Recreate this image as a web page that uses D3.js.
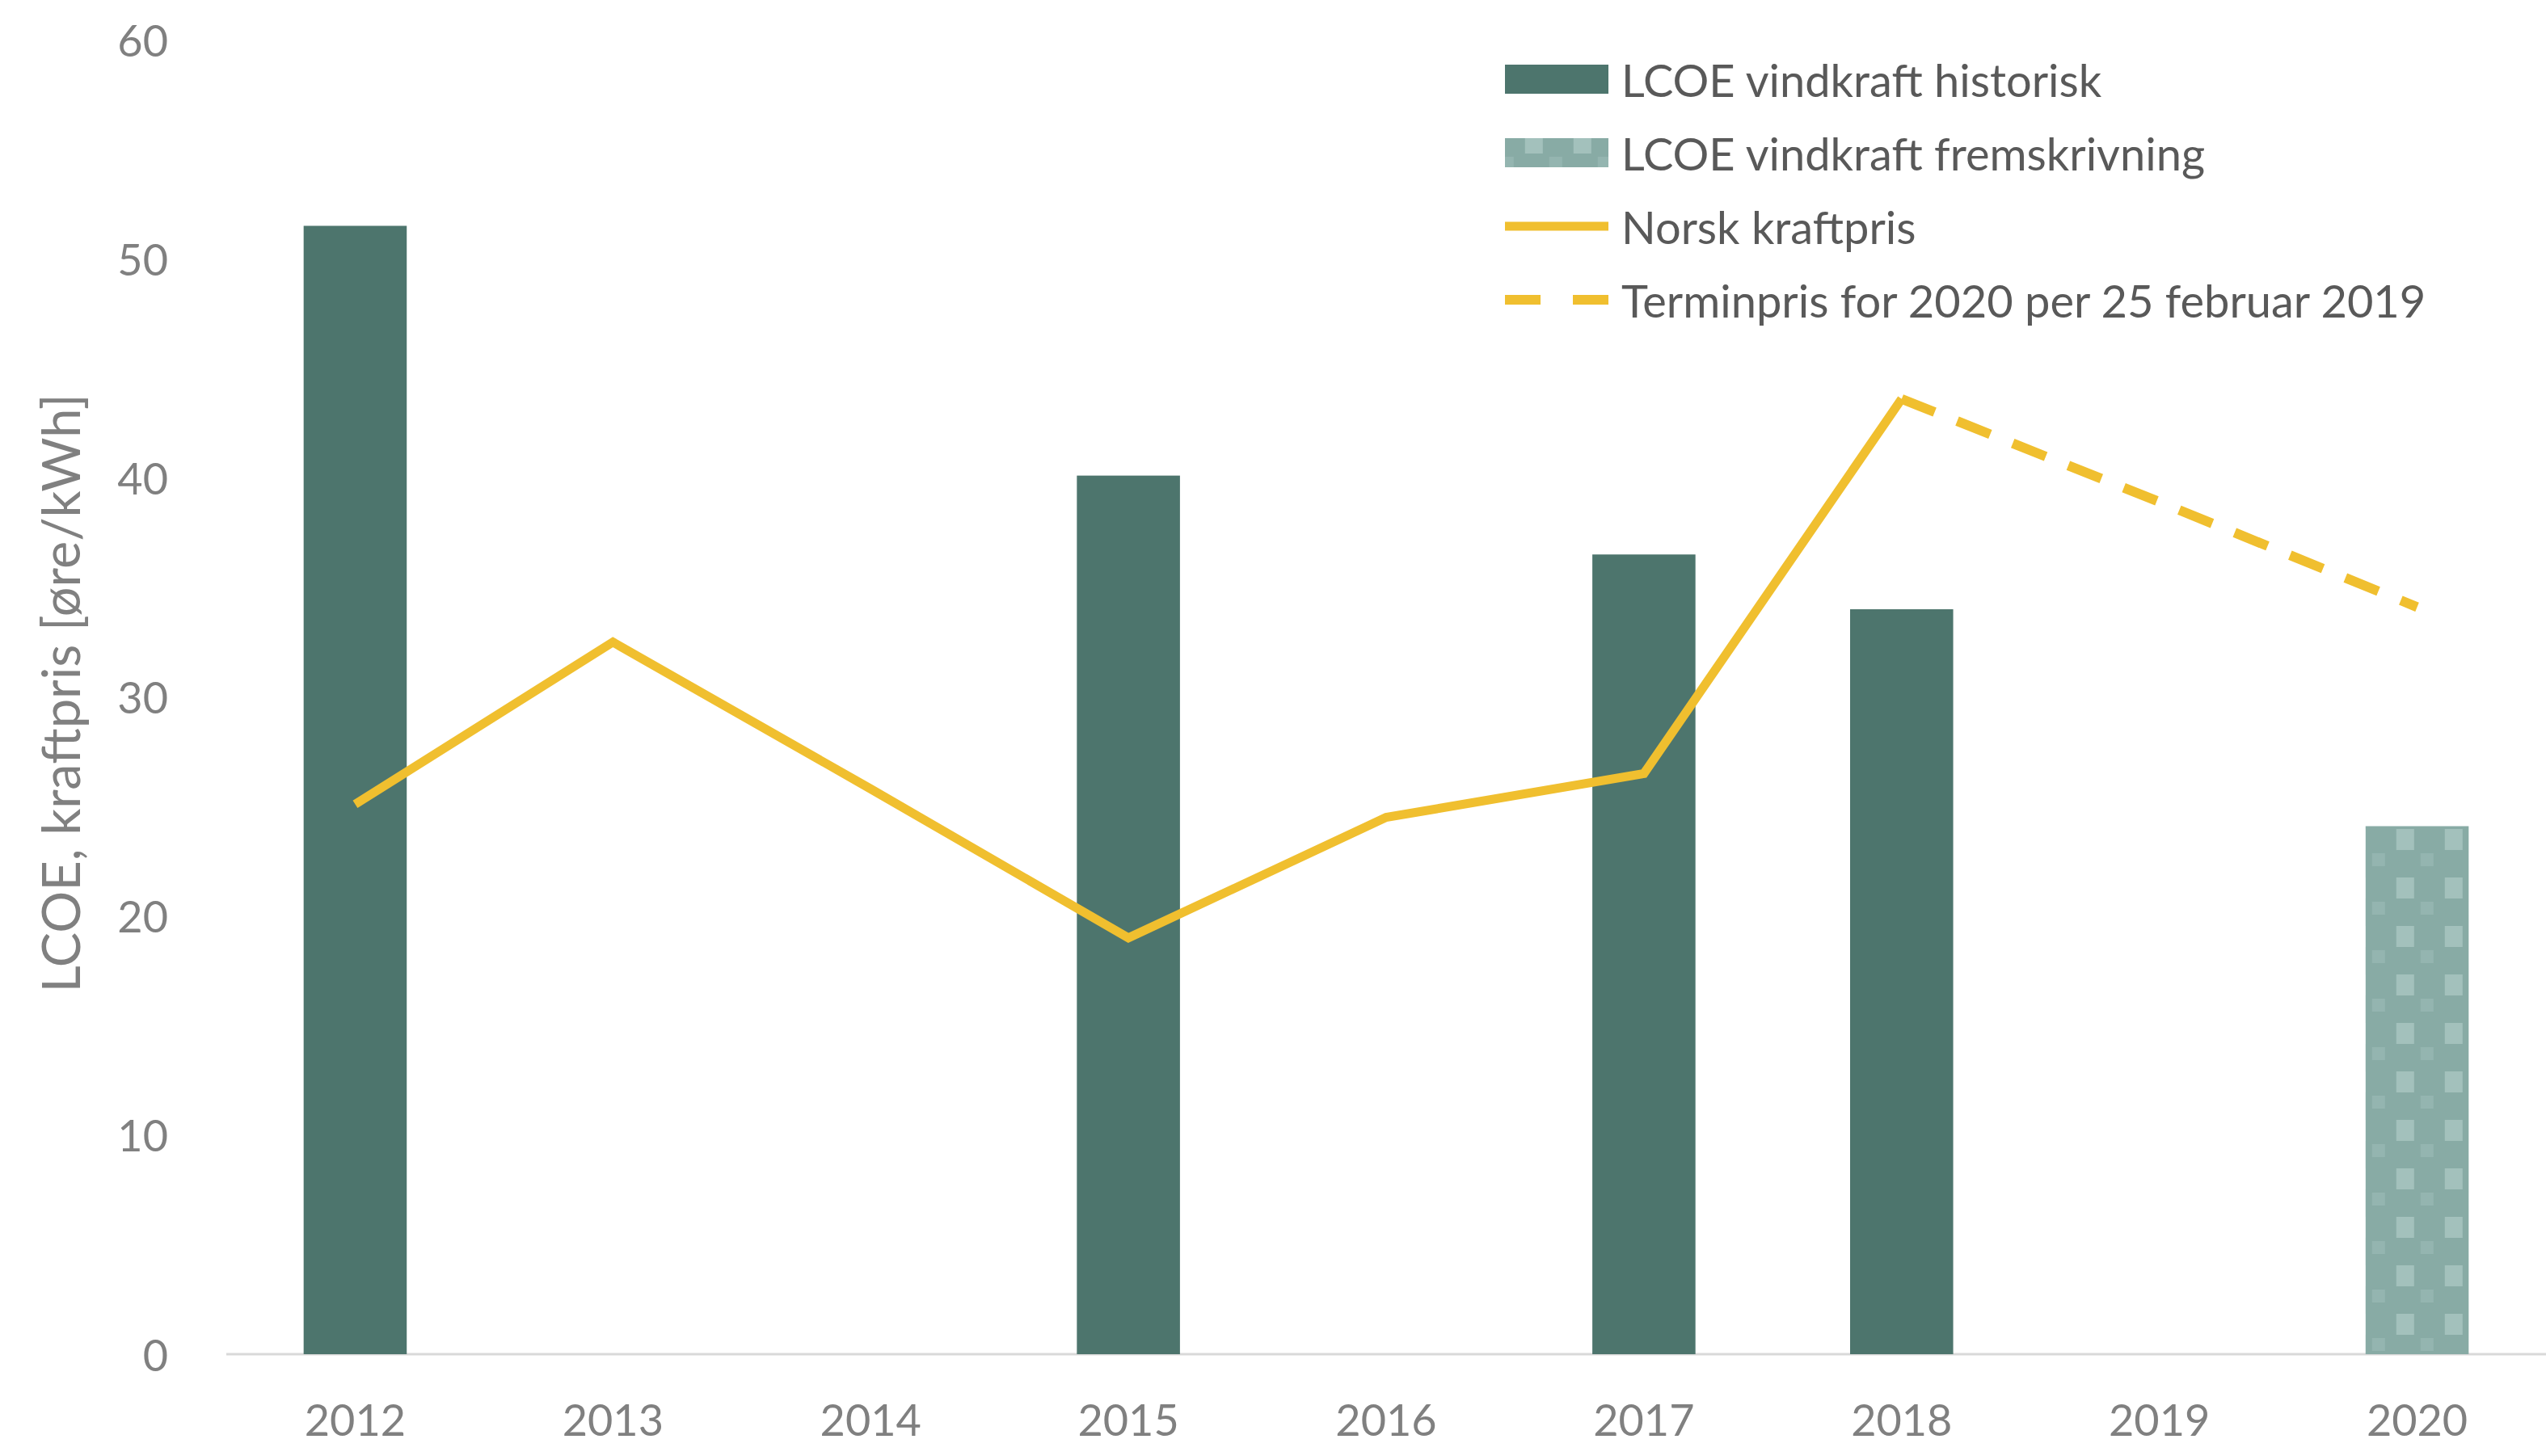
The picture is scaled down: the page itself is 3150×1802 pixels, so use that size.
<!DOCTYPE html>
<html>
  <head>
    <meta charset="utf-8" />
    <title>LCOE vindkraft og kraftpris</title>
    <script src="https://d3js.org/d3.v7.min.js"></script>
    <style>
      body{
        margin: 0;
        background: white;
        font-family: 'Lato', sans-serif;
      }
      .tick-label{
        fill: #808080;
        font-size: 54px;
      }
      .legend-label{
        fill: #595959;
        font-size: 56px;
      }
      .axis-title{
        fill: #808080;
        font-size: 65px;
      }
    </style>
  </head>
  <body>
    <svg id="chart"></svg>
    <script>
      var years = ["2012", "2013", "2014", "2015", "2016", "2017", "2018", "2019", "2020"];
      // LCOE vindkraft (historisk), null where no bar
      var lcoeHistorisk = [51.5, null, null, 40.1, null, 36.5, 34.0, null, null];
      var lcoeFremskrivning = [null, null, null, null, null, null, null, null, 24.1];
      var norskKraftpris = [25.1, 32.5, 25.8, 19.0, 24.5, 26.5, 43.6, null, null];
      var terminpris = [null, null, null, null, null, null, 43.6, 38.9, 34.1];
      var yTicks = [0, 10, 20, 30, 40, 50, 60];
      var legendLabels = [
        "LCOE vindkraft historisk",
        "LCOE vindkraft fremskrivning",
        "Norsk kraftpris",
        "Terminpris for 2020 per 25 februar 2019"
      ];

      var width = 3150;
      var height = 1802;
      var barColor = "#4d756d";
      var lineColor = "#f0bf2f";

      var svg = d3.select("#chart")
        .attr("width", width)
        .attr("height", height);

      var x = d3.scaleBand()
        .domain(years)
        .range([280, 3150])
        .paddingInner(0.6)
        .paddingOuter(0.3);

      var y = d3.scaleLinear()
        .domain([0, 60])
        .range([1676, 49]);

      // dotted pattern for the projection bar
      var defs = svg.append("defs");
      var pattern = defs.append("pattern")
        .attr("id", "fremPattern")
        .attr("patternUnits", "userSpaceOnUse")
        .attr("width", 60)
        .attr("height", 60)
        .attr("x", x("2020"))
        .attr("y", 0);
      pattern.append("rect")
        .attr("width", 60)
        .attr("height", 60)
        .attr("fill", "#88aba5");
      pattern.append("rect")
        .attr("x", 38)
        .attr("y", 6)
        .attr("width", 26)
        .attr("height", 26)
        .attr("fill", "#a3c1bc");
      pattern.append("rect")
        .attr("x", 8)
        .attr("y", 36)
        .attr("width", 16)
        .attr("height", 16)
        .attr("fill", "#94b5b0");

      // x axis line
      svg.append("line")
        .attr("x1", 280)
        .attr("x2", 3150)
        .attr("y1", y(0))
        .attr("y2", y(0))
        .attr("stroke", "#d9d9d9")
        .attr("stroke-width", 3);

      // y tick labels
      svg.selectAll(".ytick")
        .data(yTicks)
        .enter()
        .append("text")
        .attr("class", "tick-label")
        .attr("x", 208)
        .attr("y", function (d) { return y(d); })
        .attr("text-anchor", "end")
        .attr("dominant-baseline", "central")
        .text(function (d) { return d; });

      // x tick labels
      svg.selectAll(".xtick")
        .data(years)
        .enter()
        .append("text")
        .attr("class", "tick-label")
        .attr("x", function (d) { return x(d) + x.bandwidth() / 2; })
        .attr("y", 1756)
        .attr("text-anchor", "middle")
        .attr("dominant-baseline", "central")
        .text(function (d) { return d; });

      // y axis title
      svg.append("text")
        .attr("class", "axis-title")
        .attr("transform", "translate(74,858) rotate(-90)")
        .attr("text-anchor", "middle")
        .attr("dominant-baseline", "central")
        .text("LCOE, kraftpris [øre/kWh]");

      // bars
      var histData = years.map(function (yr, i) { return { year: yr, value: lcoeHistorisk[i] }; })
        .filter(function (d) { return d.value != null; });
      svg.selectAll(".bar-hist")
        .data(histData)
        .enter()
        .append("rect")
        .attr("class", "bar-hist")
        .attr("x", function (d) { return x(d.year); })
        .attr("y", function (d) { return y(d.value); })
        .attr("width", x.bandwidth())
        .attr("height", function (d) { return y(0) - y(d.value); })
        .attr("fill", barColor);

      var fremData = years.map(function (yr, i) { return { year: yr, value: lcoeFremskrivning[i] }; })
        .filter(function (d) { return d.value != null; });
      svg.selectAll(".bar-frem")
        .data(fremData)
        .enter()
        .append("rect")
        .attr("class", "bar-frem")
        .attr("x", function (d) { return x(d.year); })
        .attr("y", function (d) { return y(d.value); })
        .attr("width", x.bandwidth())
        .attr("height", function (d) { return y(0) - y(d.value); })
        .attr("fill", "url(#fremPattern)");

      // lines
      var line = d3.line()
        .defined(function (d) { return d.value != null; })
        .x(function (d) { return x(d.year) + x.bandwidth() / 2; })
        .y(function (d) { return y(d.value); });

      svg.append("path")
        .datum(years.map(function (yr, i) { return { year: yr, value: norskKraftpris[i] }; }))
        .attr("d", line)
        .attr("fill", "none")
        .attr("stroke", lineColor)
        .attr("stroke-width", 11)
        .attr("stroke-linejoin", "miter");

      svg.append("path")
        .datum(years.map(function (yr, i) { return { year: yr, value: terminpris[i] }; }))
        .attr("d", line)
        .attr("fill", "none")
        .attr("stroke", lineColor)
        .attr("stroke-width", 12)
        .attr("stroke-dasharray", "44,30");

      // legend
      var legend = svg.append("g")
        .attr("transform", "translate(1862,98)");
      var rowGap = 91;

      legend.append("rect")
        .attr("x", 0).attr("y", -18)
        .attr("width", 128).attr("height", 36)
        .attr("fill", barColor);
      legend.append("rect")
        .attr("x", 0).attr("y", rowGap - 18)
        .attr("width", 128).attr("height", 36)
        .attr("fill", "url(#fremPattern)");
      legend.append("line")
        .attr("x1", 0).attr("x2", 128)
        .attr("y1", rowGap * 2).attr("y2", rowGap * 2)
        .attr("stroke", lineColor)
        .attr("stroke-width", 11);
      legend.append("line")
        .attr("x1", 0).attr("x2", 128)
        .attr("y1", rowGap * 3).attr("y2", rowGap * 3)
        .attr("stroke", lineColor)
        .attr("stroke-width", 12)
        .attr("stroke-dasharray", "44,40");

      legend.selectAll(".legend-label")
        .data(legendLabels)
        .enter()
        .append("text")
        .attr("class", "legend-label")
        .attr("x", 144)
        .attr("y", function (d, i) { return i * rowGap; })
        .attr("dominant-baseline", "central")
        .text(function (d) { return d; });
    </script>
  </body>
</html>
